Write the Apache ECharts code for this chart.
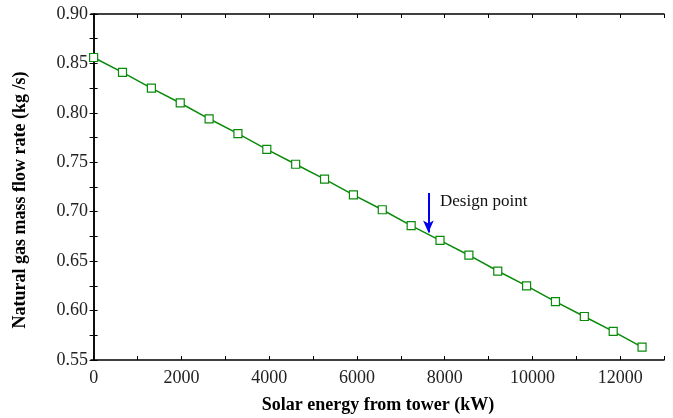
<!DOCTYPE html>
<html>
<head>
<meta charset="utf-8">
<script src="https://cdn.jsdelivr.net/npm/echarts@6/dist/echarts.min.js"></script>
<style>
  html, body { margin: 0; padding: 0; background: #fff; }
  #chart { width: 673px; height: 418px; }
</style>
</head>
<body>
<div id="chart"></div>
<script>
// solar energy from tower (kW)
const solarEnergy = [0, 658, 1316, 1974, 2632, 3289, 3947, 4605, 5263, 5921,
  6579, 7237, 7895, 8553, 9211, 9868, 10526, 11184, 11842, 12500]
// natural gas mass flow rate (kg/s)
const gasFlow = [0.856, 0.841, 0.825, 0.810, 0.794, 0.779, 0.763, 0.748, 0.733, 0.717,
  0.702, 0.686, 0.671, 0.656, 0.640, 0.625, 0.609, 0.594, 0.579, 0.563]
const xLabelValues = [0, 2000, 4000, 6000, 8000, 10000, 12000]
const xTickValues = [0, 1000, 2000, 3000, 4000, 5000, 6000, 7000, 8000, 9000, 10000, 11000, 12000, 13000]
// design point arrow (data coords)
const designArrow = [[7630, 0.719], [7630, 0.679]]

const font = 'Liberation Serif, Times New Roman, serif'
const axisLine = { lineStyle: { color: '#000', width: 1.5 } }

let myChart = echarts.init(document.getElementById('chart'))
let option = {
  animation: false,
  grid: { left: 91, top: 14, right: 9, bottom: 58 },
  xAxis: [
    {
      type: 'value',
      min: -60,
      max: 13000,
      position: 'bottom',
      axisLine: axisLine,
      axisTick: { inside: true, length: 4, customValues: xTickValues, lineStyle: { color: '#000' } },
      axisLabel: {
        customValues: xLabelValues, fontFamily: font, fontSize: 18, color: '#222', margin: 9,
        formatter: v => String(v)
      },
      splitLine: { show: false }
    },
    {
      type: 'value',
      min: -60,
      max: 13000,
      position: 'top',
      axisLine: axisLine,
      axisTick: { inside: true, length: 4, customValues: xTickValues, lineStyle: { color: '#000' } },
      axisLabel: { show: false },
      splitLine: { show: false }
    }
  ],
  yAxis: [
    {
      type: 'value',
      min: 0.55,
      max: 0.9,
      interval: 0.05,
      position: 'left',
      axisLine: axisLine,
      axisTick: { inside: true, length: 4, lineStyle: { color: '#000' } },
      minorTick: { show: true, splitNumber: 2, length: 4, lineStyle: { color: '#000' } },
      axisLabel: {
        fontFamily: font, fontSize: 18, color: '#222', margin: 3,
        formatter: v => v.toFixed(2)
      },
      splitLine: { show: false }
    },
    {
      type: 'value',
      min: 0.55,
      max: 0.9,
      interval: 0.05,
      position: 'right',
      axisLine: axisLine,
      axisTick: { inside: true, length: 4, lineStyle: { color: '#000' } },
      minorTick: { show: true, splitNumber: 2, length: 4, lineStyle: { color: '#000' } },
      axisLabel: { show: false },
      splitLine: { show: false }
    }
  ],
  graphic: [
    {
      type: 'text',
      left: 440,
      top: 193,
      style: { text: 'Design point', font: '17px ' + font, fill: '#111' }
    },
    {
      type: 'text',
      x: 378,
      y: 405,
      style: {
        text: 'Solar energy from tower (kW)', font: 'bold 18px ' + font, fill: '#000',
        align: 'center', verticalAlign: 'middle'
      }
    },
    {
      type: 'text',
      x: 20,
      y: 200,
      rotation: Math.PI / 2,
      style: {
        text: 'Natural gas mass flow rate (kg /s)', font: 'bold 18px ' + font, fill: '#000',
        align: 'center', verticalAlign: 'middle'
      }
    }
  ],
  series: [
    {
      type: 'line',
      data: solarEnergy.map((x, i) => [x, gasFlow[i]]),
      symbol: 'rect',
      symbolSize: 8,
      showAllSymbol: true,
      lineStyle: { color: '#0a8a0a', width: 1.5 },
      itemStyle: { color: '#fff', borderColor: '#0a8a0a', borderWidth: 1.2 },
      markLine: {
        silent: true,
        symbol: ['none', 'arrow'],
        symbolSize: [8, 12],
        label: { show: false },
        lineStyle: { color: '#0000ee', width: 2, type: 'solid' },
        data: [[{ coord: designArrow[0] }, { coord: designArrow[1] }]]
      }
    }
  ]
}
myChart.setOption(option)
</script>
</body>
</html>
